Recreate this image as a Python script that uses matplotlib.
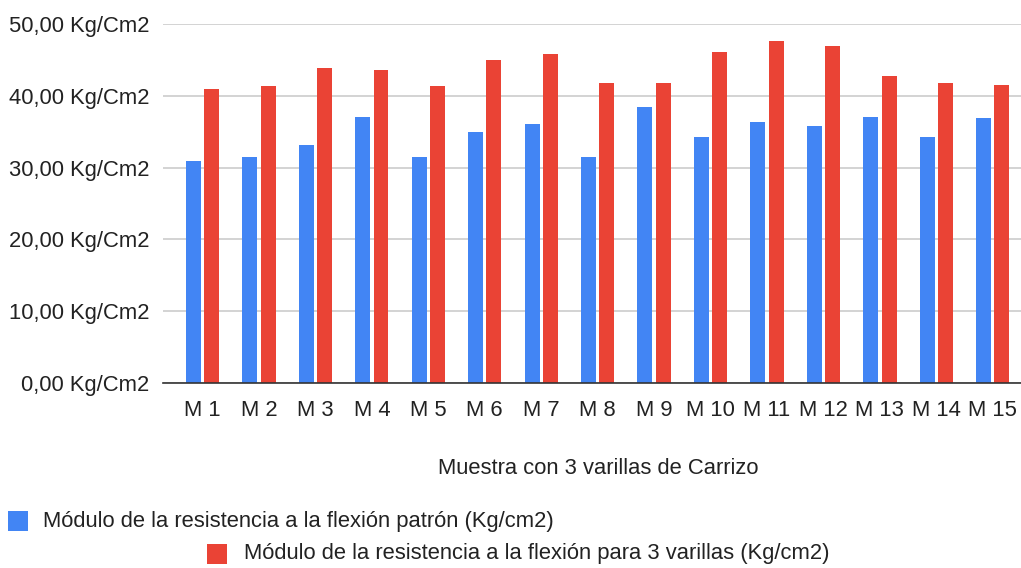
import matplotlib
matplotlib.use("Agg")
import matplotlib.pyplot as plt
from matplotlib.patches import Rectangle
import numpy as np

categories = ["M 1", "M 2", "M 3", "M 4", "M 5", "M 6", "M 7", "M 8", "M 9", "M 10",
              "M 11", "M 12", "M 13", "M 14", "M 15"]
patron = [30.9, 31.5, 33.1, 37.1, 31.5, 35.0, 36.1, 31.5, 38.5, 34.2,
          36.35, 35.8, 37.1, 34.2, 36.9]
varillas = [40.9, 41.4, 43.9, 43.6, 41.4, 45.0, 45.8, 41.75, 41.75, 46.05,
            47.7, 46.9, 42.8, 41.75, 41.5]
yticks = [0, 10, 20, 30, 40, 50]
series_names = ["Módulo de la resistencia a la flexión patrón (Kg/cm2)",
                "Módulo de la resistencia a la flexión para 3 varillas (Kg/cm2)"]
xlabel = "Muestra con 3 varillas de Carrizo"

BLUE = "#4285F4"
RED = "#EA4335"
TXT = "#222222"
FS = 15.8
plt.rcParams['font.family'] = ['Liberation Sans', 'DejaVu Sans']

fig = plt.figure(figsize=(10.21, 5.68), dpi=100)
ax = fig.add_axes([163.3/1021, 1-383/568, (1021-163.3)/1021, (383-24)/568])

x = np.arange(len(categories))
w = 0.265
off = 0.162
ax.bar(x - off, patron, width=w, color=BLUE, zorder=3)
ax.bar(x + off, varillas, width=w, color=RED, zorder=3)

ax.set_xlim(-0.695, 14.5)
ax.set_ylim(0, 50)
ax.set_yticks(yticks)
ax.set_yticklabels([f"{v:.2f}".replace('.', ',') + " Kg/Cm2" for v in yticks])
ax.set_xticks(x)
ax.set_xticklabels(categories)
ax.tick_params(axis='both', length=0, labelsize=FS, colors=TXT)
ax.tick_params(axis='y', pad=10)
ax.tick_params(axis='x', pad=12)
ax.grid(axis='y', color='#cccccc', linewidth=1.2, zorder=0)
for s in ['top', 'right', 'left']:
    ax.spines[s].set_visible(False)
ax.spines['bottom'].set_color('#333333')
ax.spines['bottom'].set_linewidth(1.2)
ax.spines['bottom'].set_zorder(4)

fig.text(598/1021, 1-468/568, xlabel, ha='center', va='center', fontsize=FS, color=TXT)

# legend
fig.patches.append(Rectangle((8/1021, 1-531/568), 20/1021, 20/568, transform=fig.transFigure,
                             facecolor=BLUE, edgecolor='none'))
fig.text(43/1021, 1-521/568, series_names[0], ha='left', va='center', fontsize=FS, color=TXT)
fig.patches.append(Rectangle((207/1021, 1-564/568), 20/1021, 20/568, transform=fig.transFigure,
                             facecolor=RED, edgecolor='none'))
fig.text(244/1021, 1-554/568, series_names[1], ha='left', va='center', fontsize=FS, color=TXT)

fig.savefig("out.png", dpi=100)
